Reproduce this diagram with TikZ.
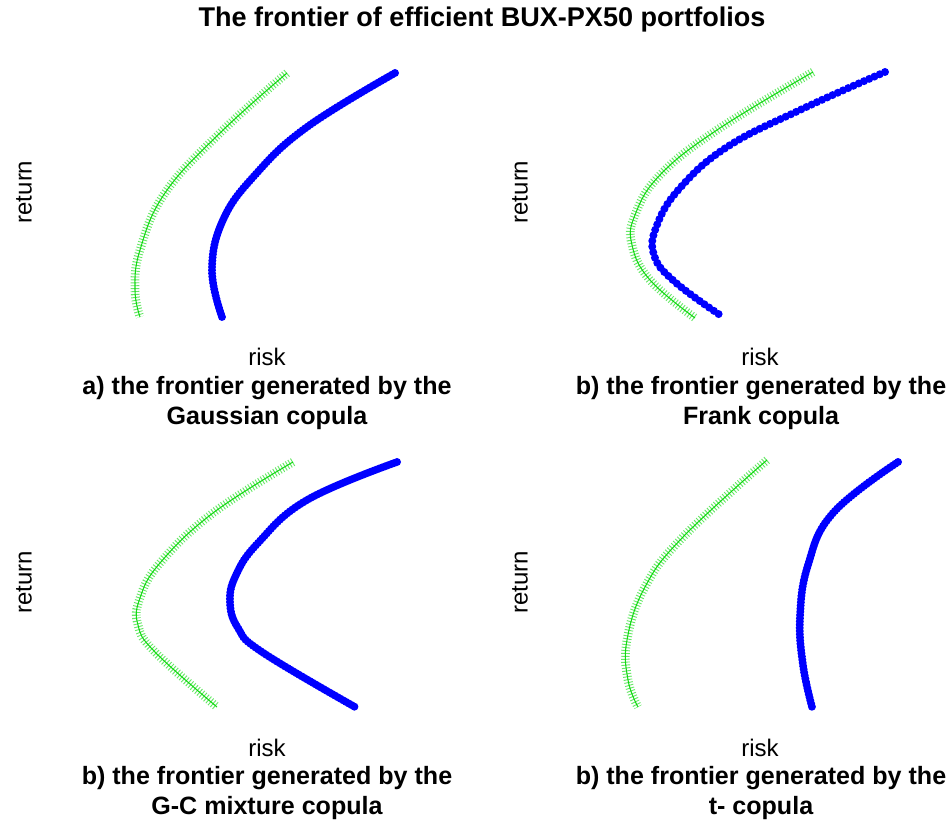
\documentclass[tikz,border=0pt]{standalone}
\usepackage{fontspec}
\setmainfont{Liberation Sans}
\definecolor{crossgreen}{RGB}{0,215,0}
\definecolor{dotblue}{RGB}{0,0,255}

\begin{document}
\begin{tikzpicture}[x=0.75pt, y=-0.75pt,
    heading/.style = {font=\fontsize{20.3}{24}\selectfont\bfseries},
    axislabel/.style = {font=\fontsize{18}{22}\selectfont},
    caption/.style = {font=\fontsize{18.8}{23}\selectfont\bfseries, align=center},
    greenfront/.style = {draw=crossgreen, draw opacity=0.6, line width=6.5pt, dash pattern=on 0.7pt off 1.5pt,
        postaction={draw=crossgreen, draw opacity=0.9, line width=0.8pt, solid}},
    bluefront/.style = {draw=dotblue, line width=6pt, line cap=round, dash pattern=on 0pt off 2.4pt},
    bluesparse/.style = {bluefront, dash pattern=on 0pt off 4.3pt}]
        \useasboundingbox (0,0) rectangle (949,820);

        \node[heading] (title) at (482,20) {The frontier of efficient BUX-PX50 portfolios};

        \node[axislabel, rotate=90] (retA) at (24,192) {return};
        \node[axislabel, rotate=90] (retB) at (520,192) {return};
        \node[axislabel, rotate=90] (retC) at (24,582) {return};
        \node[axislabel, rotate=90] (retD) at (520,582) {return};

        \node[axislabel] (riskA) at (267,357) {risk};
        \node[axislabel] (riskB) at (760,357) {risk};
        \node[axislabel] (riskC) at (267,748) {risk};
        \node[axislabel] (riskD) at (760,748) {risk};

        \node[caption] (capA) at (267,403) {a) the frontier generated by the\\Gaussian copula};
        \node[caption] (capB) at (761,403) {b) the frontier generated by the\\Frank copula};
        \node[caption] (capC) at (267,793) {b) the frontier generated by the\\G-C mixture copula};
        \node[caption] (capD) at (761,793) {b) the frontier generated by the\\t- copula};

        \draw[greenfront] plot[smooth, tension=0.7] coordinates {(287,73) (220,133) (165,193) (140,250) (135,290) (140,317)};
        \draw[bluefront] plot[smooth, tension=0.7] coordinates {(395,73) (307,127) (255,175) (223,220) (212,270) (222,317)};

        \draw[greenfront] plot[smooth, tension=0.7] coordinates {(813,72) (717,130) (660,175) (635,215) (632,245) (650,280) (695,318)};
        \draw[bluesparse] plot[smooth, tension=0.7] coordinates {(885,72) (800,110) (727,147) (680,188) (657,225) (654,255) (675,282) (723,317)};

        \draw[greenfront] plot[smooth, tension=0.7] coordinates {(293,462) (213,513) (160,563) (140,598) (138,625) (155,652) (217,707)};
        \draw[bluefront] plot[smooth, tension=0.7] coordinates {(397,462) (307,500) (258,543) (236,575) (230,602) (238,628) (262,652) (355,707)};

        \draw[greenfront] plot[smooth, tension=0.7] coordinates {(767,460) (683,537) (645,587) (627,640) (628,680) (638,707)};
        \draw[bluefront] plot[smooth, tension=0.7] coordinates {(898,462) (833,513) (808,565) (800,617) (803,665) (812,707)};
    \end{tikzpicture}
\end{document}
